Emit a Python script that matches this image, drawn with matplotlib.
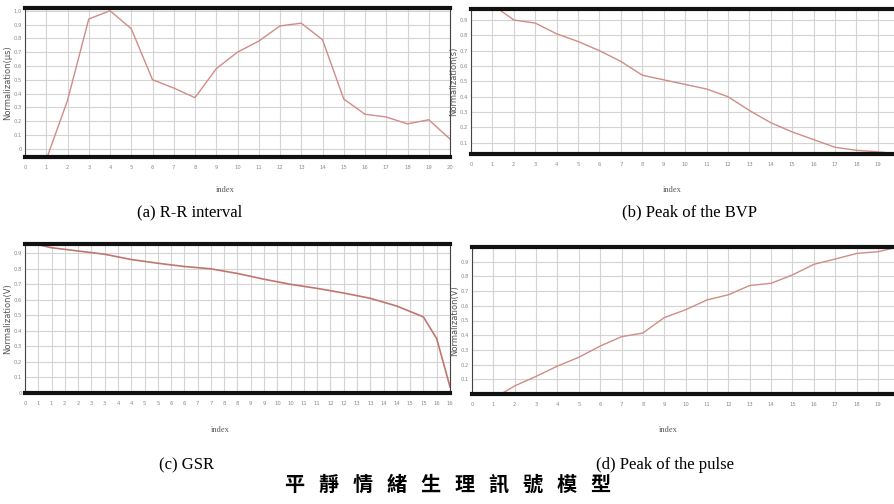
import numpy as np
import matplotlib
matplotlib.use("Agg")
import matplotlib.pyplot as plt

# (a) R-R interval
rr_x = list(range(1, 21))
rr_y = [-0.08, 0.35, 0.94, 1.00, 0.87, 0.50, 0.44, 0.37, 0.58, 0.70,
        0.78, 0.89, 0.91, 0.79, 0.36, 0.25, 0.23, 0.18, 0.21, 0.07]

# (b) Peak of the BVP
bvp_x = [1, 2, 3, 4, 5, 6, 7, 8, 9, 10, 11, 12, 13, 14, 15, 16, 17, 18, 19, 19.8]
bvp_y = [1.00, 0.90, 0.88, 0.81, 0.76, 0.70, 0.63, 0.54, 0.51, 0.48,
         0.45, 0.40, 0.31, 0.23, 0.17, 0.12, 0.07, 0.05, 0.04, 0.03]

# (c) GSR
gsr_x = [0, 1, 2, 3, 4, 5, 6, 7, 8, 9, 10, 11, 12, 13, 14, 15, 15.5, 16]
gsr_y = [0.975, 0.936, 0.915, 0.894, 0.86, 0.836, 0.815, 0.80, 0.77, 0.733,
         0.70, 0.674, 0.644, 0.61, 0.56, 0.49, 0.35, 0.04]

# (d) Peak of the pulse
pulse_x = [1, 2, 3, 4, 5, 6, 7, 8, 9, 10, 11, 12, 13, 14, 15, 16, 17, 18, 19, 19.8]
pulse_y = [-0.03, 0.055, 0.12, 0.19, 0.25, 0.326, 0.39, 0.415, 0.52, 0.573,
           0.64, 0.675, 0.738, 0.753, 0.81, 0.882, 0.918, 0.956, 0.968, 0.995]

captions = ["(a) R-R interval", "(b) Peak of the BVP", "(c) GSR", "(d) Peak of the pulse"]
ylabels = ["Normalization(\u03bcs)", "Normalization(s)", "Normalization(V)", "Normalization(V)"]
title = "平   靜   情   緒   生   理   訊   號   模   型"

W, H = 895, 504
fig = plt.figure(figsize=(W / 100, H / 100), dpi=100)
fig.patch.set_facecolor("white")

LINE = "#d08c86"
GRID = "#d4d4d4"
TICK = "#8a8a8a"


def px_axes(l, t, r, b):
    return fig.add_axes([l / W, 1 - b / H, (r - l) / W, (b - t) / H])


def style(ax, xt, xl, yt, ylab):
    ax.set_xticks(xt)
    ax.set_xticklabels(xl, fontsize=3.8, color=TICK)
    ax.set_yticks(yt)
    ax.set_yticklabels([f"{v:.1f}" if v > 0 else "0" for v in yt], fontsize=3.8, color=TICK)
    ax.tick_params(length=0, pad=6)
    ax.tick_params(axis="y", pad=2)
    ax.grid(True, color=GRID, lw=0.8)
    ax.set_axisbelow(True)
    for s in ("top", "bottom"):
        ax.spines[s].set_linewidth(3.0)
        ax.spines[s].set_color("#111111")
    for s in ("left", "right"):
        ax.spines[s].set_linewidth(0.8)
        ax.spines[s].set_color("#444444")
    ax.set_ylabel(ylab, fontsize=6, color="#555555", labelpad=1)


# (a)
ax = px_axes(25, 8, 450, 157)
ax.plot(rr_x, rr_y, color=LINE, lw=1.0)
ax.set_xlim(0, 20)
ax.set_ylim(-0.06, 1.02)
style(ax, range(21), [str(i) for i in range(21)], np.round(np.arange(0, 1.01, 0.1), 1), ylabels[0])

# (b)
ax = px_axes(471, 9, 895, 154)
ax.plot(bvp_x, bvp_y, color=LINE, lw=1.0)
ax.set_xlim(0, 19.8)
ax.set_ylim(0.026, 0.972)
style(ax, range(20), [str(i) for i in range(20)], np.round(np.arange(0.1, 0.91, 0.1), 1), ylabels[1])

# (c)
ax = px_axes(25, 244, 450, 393)
ax.plot(gsr_x, gsr_y, color="#c07670", lw=1.2)
ax.set_xlim(0, 16)
ax.set_ylim(0, 0.96)
gx = np.arange(0, 16.01, 0.5)
style(ax, gx, [str(int(np.ceil(v))) for v in gx], np.round(np.arange(0, 0.91, 0.1), 1), ylabels[2])

# (d)
ax = px_axes(472, 247, 895, 394)
ax.plot(pulse_x, pulse_y, color=LINE, lw=1.0)
ax.set_xlim(0, 19.8)
ax.set_ylim(0, 1.0)
style(ax, range(20), [str(i) for i in range(20)], np.round(np.arange(0.1, 0.91, 0.1), 1), ylabels[3])

# index labels
for x, y in [(225, 190), (672, 190), (220, 430), (668, 430)]:
    fig.text(x / W, 1 - y / H, "index", fontsize=6, color="#555555",
             ha="center", va="center", family="Liberation Serif")

# captions
for (x, y), c in zip([(190, 212), (690, 212), (187, 465), (665, 465)], captions):
    fig.text(x / W, 1 - y / H, c, fontsize=12, color="black",
             ha="center", va="center", family="Liberation Serif")

fig.text(448 / W, 1 - 484 / H, title, fontsize=14.5, color="black", ha="center",
         va="center", family=["Noto Sans CJK TC", "DejaVu Sans"], weight="bold")

fig.savefig("out.png", dpi=100, facecolor="white")
